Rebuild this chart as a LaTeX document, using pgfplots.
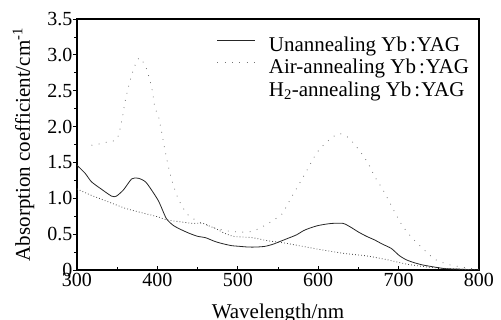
\documentclass[border=0pt]{standalone}
\usepackage{pgfplots}
\pgfplotsset{compat=1.18}
\usepackage{fontspec}
\setmainfont{Liberation Serif}
\begin{document}
\begin{tikzpicture}
\path[use as bounding box] (-77pt,-50pt) rectangle (424pt,270pt);
\begin{axis}[
  at={(0pt,0pt)}, anchor=south west,
  scale only axis, width=402pt, height=251pt,
  xmin=300, xmax=800, ymin=0, ymax=3.5,
  xtick={300,400,...,800},
  ytick={0,0.5,1,1.5,2,2.5,3,3.5},
  yticklabels={0,0.5,1.0,1.5,2.0,2.5,3.0,3.5},
  minor tick num=1,
  xtick pos=bottom, ytick pos=left,
  x tick style={black, line width=0.8pt},
  y tick style={black, line width=0.8pt},
  xtick align=inside, ytick align=outside,
  major tick length=4pt, minor tick length=2.5pt,
  axis line style={line width=1.4pt},
  /pgf/number format/assume math mode=true,
  tick label style={font=\fontsize{20}{22}\selectfont, inner sep=0.5pt},
  xticklabel style={yshift=-3pt},
  xlabel={Wavelength/nm},
  ylabel={Absorption coefficient/cm\textsuperscript{-1}},
  label style={font=\fontsize{21}{23}\selectfont},
  xlabel style={at={(axis description cs:0.5,-0.195)}, anchor=base},
  ylabel style={at={(axis description cs:-0.117,0.5)}, anchor=base},
  legend style={draw=none, fill=none, at={(axis description cs:0.348,0.93)}, anchor=north west,
    font=\fontsize{21}{23}\selectfont, inner sep=0pt, row sep=4pt,
    nodes={inner sep=0pt, text height=14.5pt, text depth=4pt},
    /tikz/every odd column/.append style={column sep=13pt}},
  legend cell align=left,
  legend image code/.code={\draw[#1] (0pt,6pt) -- (38pt,6pt);},
]
\addplot[black!85, line width=0.8pt, smooth, tension=0.4] coordinates {
(300,1.46) (310,1.35) (318,1.23) (330,1.13) (343,1.03) (349,1.03) (358,1.12)
(368,1.27) (376,1.28) (386,1.22) (401,0.97) (411,0.72) (420,0.62) (430,0.56)
(440,0.51) (450,0.47) (460,0.45) (471,0.40) (480,0.37) (492,0.34) (502,0.33)
(513,0.32) (523,0.32) (534,0.33) (544,0.36) (553,0.40) (562,0.44) (573,0.49)
(582,0.55) (591,0.59) (600,0.62) (610,0.64) (618,0.65) (631,0.65) (640,0.60)
(650,0.53) (660,0.47) (670,0.42) (680,0.36) (691,0.30) (701,0.20) (710,0.14)
(720,0.10) (730,0.07) (740,0.05) (757,0.02) (780,0.01) (800,0.0)
};
\addlegendentry{Unannealing Yb\hspace{3pt}:\hspace{1pt}YAG}
\addplot[black!55, line width=0.8pt, dash pattern=on 0.8pt off 6.5pt, smooth, tension=0.4] coordinates {
(318,1.74) (324,1.75) (340,1.79) (350,1.83) (356,2.10) (360,2.36) (366,2.64)
(372,2.85) (378,2.96) (386,2.82) (393,2.54) (397,2.26) (402,2.11) (411,1.58)
(418,1.25) (426,0.99) (437,0.78) (450,0.68) (465,0.61) (484,0.55) (500,0.53)
(513,0.53) (523,0.56) (535,0.63) (545,0.70) (555,0.78) (565,0.98) (579,1.25)
(587,1.41) (598,1.63) (610,1.78) (625,1.90) (637,1.85) (651,1.67) (662,1.49)
(671,1.29) (681,1.11) (695,0.81) (704,0.63) (715,0.47) (730,0.30) (745,0.15)
(761,0.08) (774,0.05) (790,0.02) (800,0.01)
};
\addlegendentry{Air-annealing Yb\hspace{3pt}:\hspace{1pt}YAG}
\addplot[black!70, line width=0.8pt, dash pattern=on 0.8pt off 2.2pt, smooth, tension=0.4,
  legend image code/.code={}] coordinates {
(300,1.13) (318,1.04) (339,0.95) (360,0.86) (380,0.80) (401,0.74) (411,0.70)
(430,0.67) (443,0.65) (457,0.65) (465,0.61) (474,0.57) (482,0.52) (494,0.47)
(506,0.46) (519,0.45) (536,0.41) (556,0.38) (571,0.35) (600,0.29) (633,0.23)
(658,0.20) (683,0.15) (711,0.08) (737,0.04) (760,0.02) (780,0.01) (800,0)
};
\addlegendentry{H\textsubscript{2}-annealing Yb\hspace{3pt}:\hspace{1pt}YAG}
\end{axis}
\end{tikzpicture}
\end{document}
